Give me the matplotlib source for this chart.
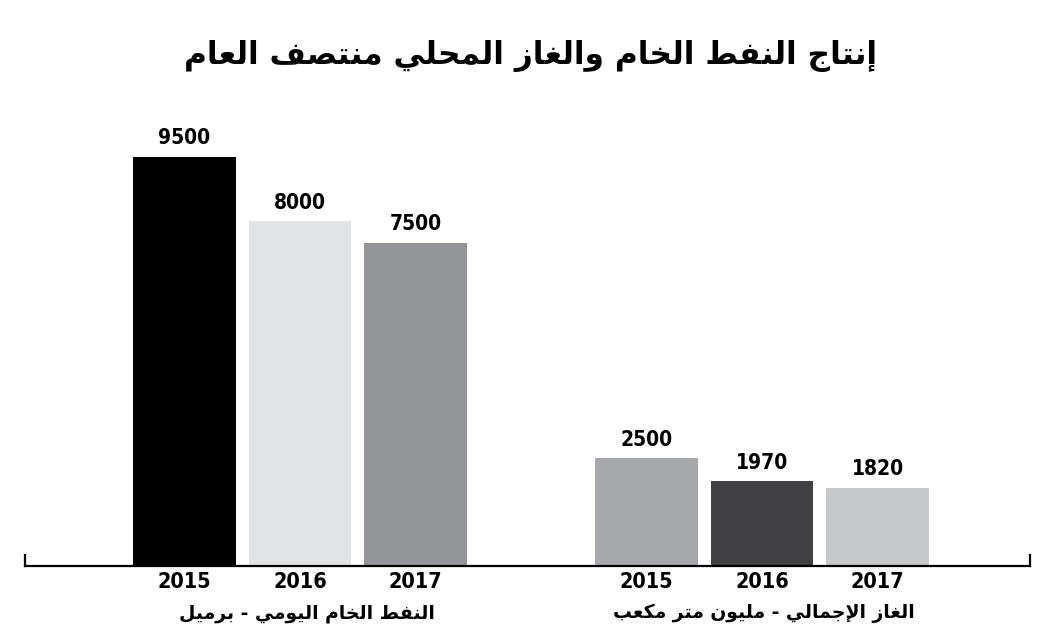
import matplotlib
matplotlib.use("Agg")
import matplotlib.pyplot as plt

# data
title = "إنتاج النفط الخام والغاز المحلي منتصف العام"
group_labels = ["النفط الخام اليومي - برميل", "الغاز الإجمالي - مليون متر مكعب"]
years = ["2015", "2016", "2017"]
oil = [9500, 8000, 7500]
gas = [2500, 1970, 1820]
oil_colors = ["#000000", "#e2e3e5", "#939598"]
gas_colors = ["#a7a9ac", "#414042", "#c7c8ca"]

# minimal arabic shaping (presentation forms B): isolated, final, initial, medial
FORMS = {
    "\u0627": (0xFE8D, 0xFE8E, None, None),
    "\u0625": (0xFE87, 0xFE88, None, None),
    "\u0628": (0xFE8F, 0xFE90, 0xFE91, 0xFE92),
    "\u062A": (0xFE95, 0xFE96, 0xFE97, 0xFE98),
    "\u062C": (0xFE9D, 0xFE9E, 0xFE9F, 0xFEA0),
    "\u062D": (0xFEA1, 0xFEA2, 0xFEA3, 0xFEA4),
    "\u062E": (0xFEA5, 0xFEA6, 0xFEA7, 0xFEA8),
    "\u0631": (0xFEAD, 0xFEAE, None, None),
    "\u0632": (0xFEAF, 0xFEB0, None, None),
    "\u0635": (0xFEB9, 0xFEBA, 0xFEBB, 0xFEBC),
    "\u0637": (0xFEC1, 0xFEC2, 0xFEC3, 0xFEC4),
    "\u0639": (0xFEC9, 0xFECA, 0xFECB, 0xFECC),
    "\u063A": (0xFECD, 0xFECE, 0xFECF, 0xFED0),
    "\u0641": (0xFED1, 0xFED2, 0xFED3, 0xFED4),
    "\u0643": (0xFED9, 0xFEDA, 0xFEDB, 0xFEDC),
    "\u0644": (0xFEDD, 0xFEDE, 0xFEDF, 0xFEE0),
    "\u0645": (0xFEE1, 0xFEE2, 0xFEE3, 0xFEE4),
    "\u0646": (0xFEE5, 0xFEE6, 0xFEE7, 0xFEE8),
    "\u0648": (0xFEED, 0xFEEE, None, None),
    "\u064A": (0xFEF1, 0xFEF2, 0xFEF3, 0xFEF4),
}
LAM_ALEF = {"\u0627": (0xFEFB, 0xFEFC), "\u0625": (0xFEF9, 0xFEFA)}


def shape(text):
    # merge lam + alef into ligature tokens
    toks = []
    i = 0
    while i < len(text):
        c = text[i]
        if c == "\u0644" and i + 1 < len(text) and text[i + 1] in LAM_ALEF:
            toks.append(("LA", text[i + 1]))
            i += 2
        else:
            toks.append(("C", c))
            i += 1

    def joins_next(t):
        kind, c = t
        if kind == "LA":
            return False
        return c in FORMS and FORMS[c][2] is not None

    def is_letter(t):
        return t[0] == "LA" or t[1] in FORMS

    out = []
    for k, t in enumerate(toks):
        prev_join = k > 0 and joins_next(toks[k - 1]) and is_letter(t)
        if t[0] == "LA":
            iso, fin = LAM_ALEF[t[1]]
            out.append(chr(fin if prev_join else iso))
            continue
        c = t[1]
        if c not in FORMS:
            out.append(c)
            continue
        iso, fin, ini, med = FORMS[c]
        next_join = (k + 1 < len(toks) and ini is not None and is_letter(toks[k + 1]))
        if prev_join and next_join:
            out.append(chr(med))
        elif prev_join:
            out.append(chr(fin))
        elif next_join:
            out.append(chr(ini))
        else:
            out.append(chr(iso))
    return "".join(out)[::-1]


fig = plt.figure(figsize=(10.5, 6.42), dpi=100)
ax = fig.add_axes([25 / 1050, 76 / 642, 1005 / 1050, 474 / 642])

x_oil = [0, 1, 2]
x_gas = [4, 5, 6]
ax.bar(x_oil, oil, width=0.89, color=oil_colors)
ax.bar(x_gas, gas, width=0.89, color=gas_colors)

for xs, vals in ((x_oil, oil), (x_gas, gas)):
    for xv, v in zip(xs, vals):
        ax.annotate(str(v), (xv, v), xytext=(0, 6), textcoords="offset points",
                    ha="center", va="bottom", fontsize=15, fontweight="heavy",
                    family="DejaVu Sans", fontstretch="condensed")

ax.set_xlim(-1.38, 7.32)
ax.set_ylim(0, 11000)

ax.spines["top"].set_visible(False)
for s in ("left", "right", "bottom"):
    ax.spines[s].set_linewidth(1.6)
ax.spines["left"].set_bounds(0, 260)
ax.spines["right"].set_bounds(0, 260)
ax.set_yticks([])
ax.set_xticks(x_oil + x_gas)
ax.set_xticklabels(years + years, fontsize=15.5, fontweight="heavy",
                   family="DejaVu Sans", fontstretch="condensed")
ax.tick_params(axis="x", length=0, pad=4)

for xc, lab in zip((1.06, 5.02), group_labels):
    ax.text(xc, -0.08, shape(lab), transform=ax.get_xaxis_transform(),
            ha="center", va="top", fontsize=13.5, fontweight="heavy",
            family="DejaVu Sans")

fig.text(0.505, 1 - 56 / 642, shape(title), ha="center", va="center",
         fontsize=22.5, fontweight="heavy", family="DejaVu Sans")

fig.savefig("out.png", dpi=100, facecolor="white")
